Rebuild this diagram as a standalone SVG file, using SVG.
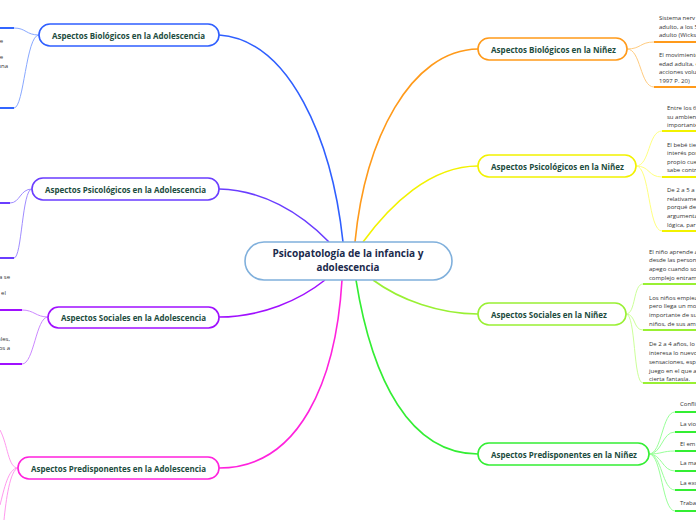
<svg xmlns="http://www.w3.org/2000/svg" width="696" height="520" viewBox="0 0 696 520">
<style>
.nl{font-family:"Open Sans","Noto Sans",sans-serif;font-weight:700;font-size:9px;fill:#1d4d40;text-anchor:middle}
.ct{font-family:"Open Sans","Noto Sans",sans-serif;font-weight:700;font-size:10px;fill:#1b2a4c;text-anchor:middle}
.sm{font-family:"Open Sans","Noto Sans",sans-serif;font-size:6px;fill:#333}
.sme{font-family:"Open Sans","Noto Sans",sans-serif;font-size:6px;fill:#333;text-anchor:end}
.box{fill:#fff;stroke-width:1.6}
.main{fill:none;stroke-width:1.6}
.sub{fill:none;stroke-width:1}
.ul{fill:none;stroke-width:2}
</style>
<rect width="696" height="520" fill="#fff"/>
<g id="connectors">
  <path class="main" stroke="#2f5fff" d="M219,35 C290,40 332,140 343,242"/>
  <path class="main" stroke="#6a3dff" d="M219,189 C262,190 300,212 329,242"/>
  <path class="main" stroke="#a010ff" d="M219,317 C262,317 300,300 325,280"/>
  <path class="main" stroke="#ff22dd" d="M219,468 C300,468 336,380 342,280"/>
  <path class="main" stroke="#ff9a1a" d="M478,49 C410,50 365,140 355,242"/>
  <path class="main" stroke="#f2f200" d="M478,166 C430,166 390,205 363,242"/>
  <path class="main" stroke="#99f033" d="M478,314 C440,314 400,300 373,280"/>
  <path class="main" stroke="#33ee33" d="M478,454 C410,454 372,380 356,280"/>
  <!-- left children -->
  <path class="sub" stroke="#88a8ff" d="M39,35 C26,35 26,28 14,28"/>
  <path class="sub" stroke="#88a8ff" d="M39,35 C26,35 24,108 14,108"/>
  <path class="ul" stroke="#3366ff" d="M0,28 H14 M0,108 H14"/>
  <path class="sub" stroke="#a08cff" d="M32,189 C20,189 20,203 10,203"/>
  <path class="sub" stroke="#a08cff" d="M32,189 C22,189 22,258 14,258"/>
  <path class="ul" stroke="#6a3dff" d="M0,203 H10 M0,258 H14"/>
  <path class="sub" stroke="#cc88ff" d="M48,317 C36,317 34,310 22,310"/>
  <path class="sub" stroke="#cc88ff" d="M48,317 C36,317 34,364 22,364"/>
  <path class="ul" stroke="#a010ff" d="M0,310 H22 M0,364 H22"/>
  <path class="sub" stroke="#ff99ee" d="M18,468 C8,468 8,445 0,430"/>
  <path class="sub" stroke="#ff99ee" d="M18,468 C8,468 4,490 0,505"/>
  <path class="sub" stroke="#ff99ee" d="M18,468 C10,470 6,500 4,520"/>
  <!-- right children -->
  <path class="sub" stroke="#ffcc80" d="M627,49 C641,49 640,42 654,42"/>
  <path class="sub" stroke="#ffcc80" d="M627,49 C641,49 640,87 654,87"/>
  <path class="ul" stroke="#ff9a1a" d="M654,42 H696 M654,87 H696"/>
  <path class="sub" stroke="#ffff80" d="M636,166 C650,166 648,131 662,131"/>
  <path class="sub" stroke="#ffff80" d="M636,166 C650,166 648,177 662,177"/>
  <path class="sub" stroke="#ffff80" d="M636,166 C650,166 648,231 662,231"/>
  <path class="ul" stroke="#f2f200" d="M662,131 H696 M662,177 H696 M662,231 H696"/>
  <path class="sub" stroke="#ccff99" d="M626,314 C636,314 633,284 643,284"/>
  <path class="sub" stroke="#ccff99" d="M626,314 C636,314 633,330 643,330"/>
  <path class="sub" stroke="#ccff99" d="M626,314 C636,314 633,383 643,383"/>
  <path class="ul" stroke="#99f033" d="M643,284 H696 M643,330 H696 M643,383 H696"/>
  <path class="sub" stroke="#99ff99" d="M649,454 C662,454 662,412 675,412"/>
  <path class="sub" stroke="#99ff99" d="M649,454 C662,454 662,432 675,432"/>
  <path class="sub" stroke="#99ff99" d="M649,454 C662,454 662,451 675,451"/>
  <path class="sub" stroke="#99ff99" d="M649,454 C662,454 662,471 675,471"/>
  <path class="sub" stroke="#99ff99" d="M649,454 C662,454 662,490 675,490"/>
  <path class="sub" stroke="#99ff99" d="M649,454 C662,454 662,511 675,511"/>
  <path class="ul" stroke="#33ee33" d="M675,412 H696 M675,432 H696 M675,451 H696 M675,471 H696 M675,490 H696 M675,511 H696"/>
</g>
<g id="central">
  <rect class="box" x="245" y="242" width="207" height="38" rx="19" stroke="#80b0dc"/>
  <text class="ct" x="348" y="257" textLength="151" lengthAdjust="spacingAndGlyphs">Psicopatología de la infancia y</text>
  <text class="ct" x="348" y="271" textLength="63" lengthAdjust="spacingAndGlyphs">adolescencia</text>
</g>
<g id="bio-adol">
  <rect class="box" x="39" y="24" width="180" height="22" rx="11" stroke="#2f5fff"/>
  <text class="nl" x="128.5" y="38.5" textLength="153" lengthAdjust="spacingAndGlyphs">Aspectos Biológicos en la Adolescencia</text>
  <text class="sme" x="3" y="43">e</text>
  <text class="sme" x="3" y="59">e</text>
  <text class="sme" x="8" y="68">una</text>
</g>
<g id="psi-adol">
  <rect class="box" x="32" y="178" width="187" height="22" rx="11" stroke="#6a3dff"/>
  <text class="nl" x="125.5" y="192.5" textLength="161" lengthAdjust="spacingAndGlyphs">Aspectos Psicológicos en la Adolescencia</text>
</g>
<g id="soc-adol">
  <rect class="box" x="48" y="307" width="171" height="21" rx="10.5" stroke="#a010ff"/>
  <text class="nl" x="133.5" y="320.5" textLength="145" lengthAdjust="spacingAndGlyphs">Aspectos Sociales en la Adolescencia</text>
  <text class="sme" x="10" y="279">a se</text>
  <text class="sme" x="6" y="295">el</text>
  <text class="sme" x="10" y="341">ales,</text>
  <text class="sme" x="10" y="350">os a</text>
</g>
<g id="pre-adol">
  <rect class="box" x="18" y="457" width="201" height="22" rx="11" stroke="#ff22dd"/>
  <text class="nl" x="118.5" y="471.5" textLength="175" lengthAdjust="spacingAndGlyphs">Aspectos Predisponentes en la Adolescencia</text>
</g>
<g id="bio-nin">
  <rect class="box" x="478" y="38" width="149" height="22" rx="11" stroke="#ff9a1a"/>
  <text class="nl" x="553.5" y="52.5" textLength="125" lengthAdjust="spacingAndGlyphs">Aspectos Biológicos en la Niñez</text>
  <text class="sm" x="659" y="20">Sistema nerv</text>
  <text class="sm" x="659" y="28.5">adulto, a los 5</text>
  <text class="sm" x="659" y="37">adulto (Wicks</text>
  <text class="sm" x="659" y="57">El movimiento</text>
  <text class="sm" x="659" y="65.5">edad adulta, e</text>
  <text class="sm" x="659" y="74">acciones volu</text>
  <text class="sm" x="659" y="82.5">1997 P. 20)</text>
</g>
<g id="psi-nin">
  <rect class="box" x="478" y="155" width="158" height="22" rx="11" stroke="#f2f200"/>
  <text class="nl" x="557.5" y="169.5" textLength="133" lengthAdjust="spacingAndGlyphs">Aspectos Psicológicos en la Niñez</text>
  <text class="sm" x="667" y="110">Entre los 6</text>
  <text class="sm" x="667" y="118.5">su ambien</text>
  <text class="sm" x="667" y="127">importante</text>
  <text class="sm" x="667" y="146.5">El bebé tie</text>
  <text class="sm" x="667" y="155">interés por</text>
  <text class="sm" x="667" y="163.5">propio cue</text>
  <text class="sm" x="667" y="172">sabe contr</text>
  <text class="sm" x="667" y="191.5">De 2 a 5 a</text>
  <text class="sm" x="667" y="200.5">relativame</text>
  <text class="sm" x="667" y="209">porqué de</text>
  <text class="sm" x="667" y="218">argumenta</text>
  <text class="sm" x="667" y="226.5">lógica, par</text>
</g>
<g id="soc-nin">
  <rect class="box" x="478" y="303" width="148" height="22" rx="11" stroke="#99f033"/>
  <text class="nl" x="549" y="318" textLength="116" lengthAdjust="spacingAndGlyphs">Aspectos Sociales en la Niñez</text>
  <text class="sm" x="649" y="253.5">El niño aprende a</text>
  <text class="sm" x="649" y="262">desde las person</text>
  <text class="sm" x="649" y="271">apego cuando so</text>
  <text class="sm" x="649" y="280">complejo entram</text>
  <text class="sm" x="649" y="299.5">Los niños empiez</text>
  <text class="sm" x="649" y="308">pero llega un mo</text>
  <text class="sm" x="649" y="317">importante de su</text>
  <text class="sm" x="649" y="325.5">niños, de sus am</text>
  <text class="sm" x="649" y="345.5">De 2 a 4 años, lo</text>
  <text class="sm" x="649" y="354.5">interesa lo nuevo</text>
  <text class="sm" x="649" y="363.5">sensaciones, esp</text>
  <text class="sm" x="649" y="372.5">juego en el que a</text>
  <text class="sm" x="649" y="381">cierta fantasía.</text>
</g>
<g id="pre-nin">
  <rect class="box" x="478" y="443" width="171" height="22" rx="11" stroke="#33ee33"/>
  <text class="nl" x="564" y="457.5" textLength="146" lengthAdjust="spacingAndGlyphs">Aspectos Predisponentes en la Niñez</text>
  <text class="sm" x="680" y="406">Confli</text>
  <text class="sm" x="680" y="426">La vio</text>
  <text class="sm" x="680" y="445.5">El em</text>
  <text class="sm" x="680" y="465">La ma</text>
  <text class="sm" x="680" y="485">La exc</text>
  <text class="sm" x="680" y="505">Traba</text>
</g>
</svg>
